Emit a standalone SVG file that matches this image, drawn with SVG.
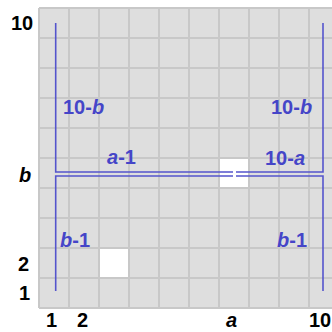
<svg xmlns="http://www.w3.org/2000/svg" width="332" height="332" viewBox="0 0 332 332">
<style>
.bg{fill:#ffffff}
.cell{fill:#dedede}
.hole{fill:#ffffff}
.grid{stroke:#c8c8c8;stroke-width:2;fill:none}
.conn{stroke:#5454cc;stroke-width:1.6;fill:none}
.ax{font-family:"Liberation Sans",Arial,sans-serif;font-weight:bold;font-size:20px;fill:#000000}
.lb{font-family:"Liberation Sans",Arial,sans-serif;font-weight:bold;font-size:20px;fill:#4545c8}
.it{font-style:italic}
</style>
<rect class="bg" x="0" y="0" width="332" height="332"/>
<g id="board">
<rect class="cell" x="39" y="8" width="300" height="300"/>
<rect class="hole" x="219" y="158" width="30" height="30"/>
<rect class="hole" x="99" y="248" width="30" height="30"/>
<path class="grid" d="M39,8V308M69,8V308M99,8V308M129,8V308M159,8V308M189,8V308M219,8V308M249,8V308M279,8V308M309,8V308M339,8V308M39,8H339M39,38H339M39,68H339M39,98H339M39,128H339M39,158H339M39,188H339M39,218H339M39,248H339M39,278H339M39,308H339"/>
</g>
<g id="connectors">
<path class="conn" d="M55.7,23V172H233"/>
<path class="conn" d="M55.7,291V176H233"/>
<path class="conn" d="M323,23V172H236"/>
<path class="conn" d="M323,291V176H236"/>
</g>
<g id="axis-labels">
<text class="ax" x="11" y="30">10</text>
<text class="ax it" x="19" y="182">b</text>
<text class="ax" x="18" y="271">2</text>
<text class="ax" x="19" y="300">1</text>
<text class="ax" x="46" y="327">1</text>
<text class="ax" x="77" y="327">2</text>
<text class="ax it" x="226" y="327">a</text>
<text class="ax" x="309" y="327">10</text>
</g>
<g id="segment-labels">
<text class="lb" x="63" y="114">10-<tspan class="it">b</tspan></text>
<text class="lb" x="271" y="114">10-<tspan class="it">b</tspan></text>
<text class="lb" x="107" y="164"><tspan class="it">a</tspan>-1</text>
<text class="lb" x="265" y="165">10-<tspan class="it">a</tspan></text>
<text class="lb" x="60" y="247"><tspan class="it">b</tspan>-1</text>
<text class="lb" x="277" y="247"><tspan class="it">b</tspan>-1</text>
</g>
</svg>
